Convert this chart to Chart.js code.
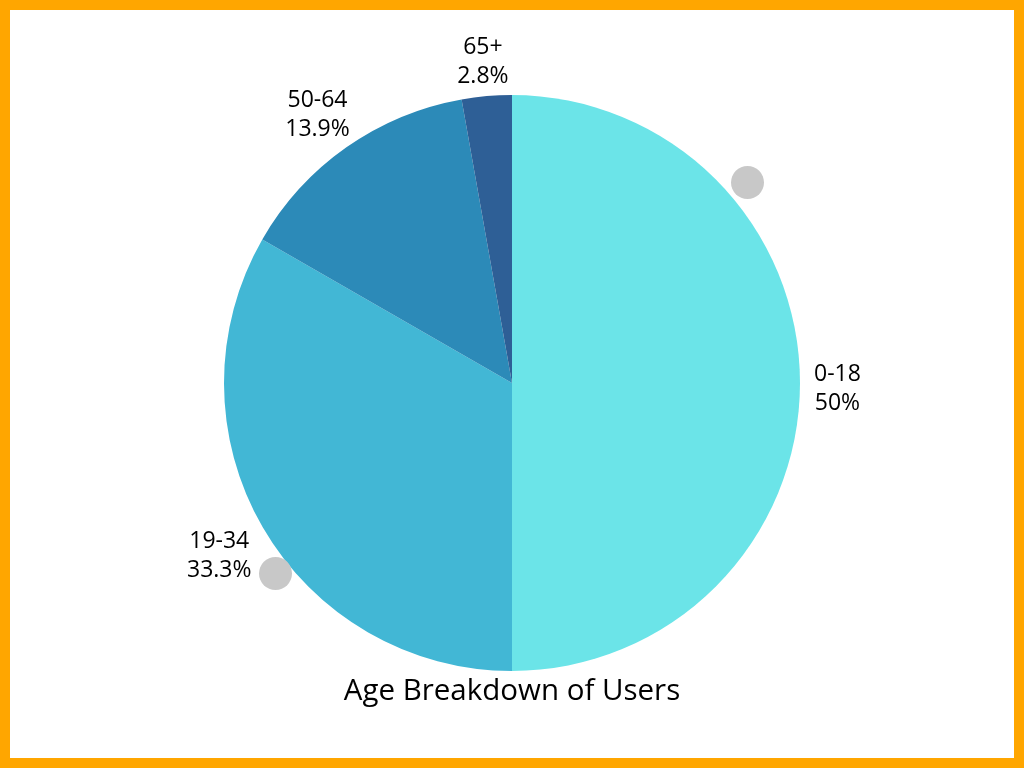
<!DOCTYPE html>
<html>
<head>
<meta charset="utf-8">
<script src="https://cdn.jsdelivr.net/npm/chart.js@4.4.1/dist/chart.umd.min.js"></script>
<style>
  html, body { margin: 0; padding: 0; }
  body { width: 1024px; height: 768px; background: #FFA600; position: relative; overflow: hidden; }
  #frame { position: absolute; left: 10px; top: 10px; width: 1004px; height: 748px; background: #fff; }
  .dot { position: absolute; width: 33px; height: 33px; border-radius: 50%; background: #C8C8C8; }
</style>
</head>
<body>
<div id="frame">
  <canvas id="ageChart" width="1004" height="748"></canvas>
</div>
<div class="dot" style="left:731px; top:166px;"></div>
<div class="dot" style="left:259px; top:557px;"></div>
<script>
// Age breakdown pie
const ageGroups = ['0-18', '19-34', '50-64', '65+'];
const userShare = [50, 33.3, 13.9, 2.8];
const shareLabels = ['50%', '33.3%', '13.9%', '2.8%'];
const sliceColors = ['#6BE4E8', '#42B7D5', '#2C8AB8', '#2E5F96'];
const chartTitle = 'Age Breakdown of Users';

const labelFont = '23px "Open Sans", "Noto Sans", sans-serif';

// draws the category + percent next to each slice
const outsideLabels = {
    id: 'outsideLabels',
    afterDatasetsDraw: function(chart) {
        const ctx = chart.ctx;
        const meta = chart.getDatasetMeta(0);
        ctx.save();
        ctx.font = labelFont;
        ctx.fillStyle = '#000';
        ctx.textAlign = 'center';
        ctx.textBaseline = 'middle';
        meta.data.forEach(function(arc, i) {
            const mid = (arc.startAngle + arc.endAngle) / 2;
            const w = Math.max(ctx.measureText(ageGroups[i]).width, ctx.measureText(shareLabels[i]).width);
            const r = arc.outerRadius + 14 + w / 2;
            // wider labels sit a touch further out on the left side
            const x = arc.x + Math.cos(mid) * r + Math.min(0, Math.cos(mid)) * 4;
            const y = arc.y + Math.sin(mid) * r + 5;
            ctx.fillText(ageGroups[i], x, y - 14);
            ctx.fillText(shareLabels[i], x, y + 15);
        });
        ctx.restore();
    }
};

// title sits just under the pie, slightly overlapping its box
const bottomTitle = {
    id: 'bottomTitle',
    afterDraw: function(chart) {
        const ctx = chart.ctx;
        ctx.save();
        ctx.font = '29.5px "Open Sans", "Noto Sans", sans-serif';
        ctx.fillStyle = '#000';
        ctx.textAlign = 'center';
        ctx.textBaseline = 'middle';
        ctx.fillText(chartTitle, chart.width / 2, 682);
        ctx.restore();
    }
};

new Chart(document.getElementById('ageChart'), {
    type: 'pie',
    data: {
        labels: ageGroups,
        datasets: [{
            data: userShare,
            backgroundColor: sliceColors,
            borderWidth: 0
        }]
    },
    options: {
        responsive: false,
        animation: false,
        layout: {
            padding: { top: 85, bottom: 87, left: 20, right: 20 }
        },
        plugins: {
            legend: { display: false },
            tooltip: { enabled: false },
            title: { display: false }
        }
    },
    plugins: [outsideLabels, bottomTitle]
});
</script>
</body>
</html>
